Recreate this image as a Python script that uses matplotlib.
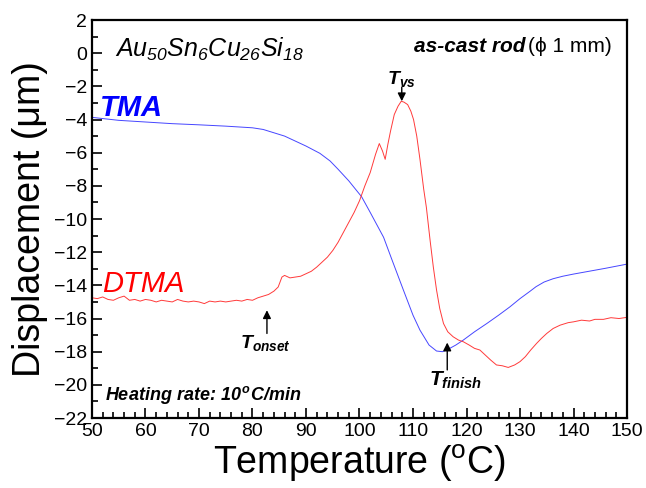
import matplotlib
matplotlib.use('Agg')
import matplotlib.pyplot as plt
from matplotlib.ticker import MultipleLocator

plt.rcParams['font.family'] = ['Liberation Sans', 'DejaVu Sans']
plt.rcParams['mathtext.fontset'] = 'custom'
plt.rcParams['mathtext.rm'] = 'Liberation Sans:italic'
plt.rcParams['mathtext.it'] = 'Liberation Sans:italic'
plt.rcParams['mathtext.sf'] = 'Liberation Sans'
plt.rcParams['mathtext.bf'] = 'Liberation Sans:bold:italic'

# TMA curve (displacement, um)
tma_t = [50, 55, 60, 65, 70, 75, 80, 82, 84, 86, 88, 90, 92.6, 94.5, 96, 98,
         100.4, 102, 104.5, 106, 108.2, 110, 111.3, 113, 114.4, 115.5, 116.3,
         118, 119.4, 121.5, 123.8, 126, 128.1, 130, 131.9, 133, 134.5, 136.2,
         138, 140, 142.4, 146, 150]
tma_d = [-3.87, -4.05, -4.15, -4.25, -4.32, -4.4, -4.5, -4.6, -4.8, -5.0,
         -5.3, -5.6, -6.04, -6.5, -7.0, -7.7, -8.66, -9.6, -11.1, -12.4,
         -14.28, -15.8, -16.7, -17.6, -17.96, -18.0, -17.9, -17.6, -17.3,
         -16.8, -16.3, -15.8, -15.3, -14.8, -14.35, -14.08, -13.8, -13.6,
         -13.45, -13.32, -13.18, -12.97, -12.72]

# DTMA curve (arbitrary offset, same axis)
dtma_t = [50, 51, 52, 53, 54, 55, 56, 57, 58, 59, 60, 61, 62, 63, 64, 65, 66,
          67, 68, 69, 70, 71, 72, 73, 74, 75, 76, 77, 78, 79, 80, 81, 82, 83,
          84, 84.8, 85.5, 86, 87, 88, 89, 90, 91, 92, 93, 94, 95, 96, 97, 98,
          99, 100, 101, 102, 103, 103.7, 104.3, 104.8, 105.3, 105.8, 106.5,
          107.2, 107.8, 108.3, 109, 109.6, 110.1, 110.7, 111.3, 112, 112.5,
          113.2, 113.8, 114.4, 115, 115.7, 116.5, 117.5, 118.5, 119.4, 120.5,
          121.5, 122.5, 123.5, 124.5, 125.6, 126.7, 127.8, 129, 130, 131, 132,
          133.1, 134, 135, 136.2, 137.5, 139, 140, 141.5, 143, 144, 145.6,
          147, 148.5, 150]
dtma_d = [-14.75, -14.8, -14.7, -14.85, -14.9, -14.75, -14.65, -14.9, -14.85,
          -14.95, -14.85, -14.9, -15.0, -14.9, -14.95, -15.0, -14.85, -14.95,
          -15.0, -14.95, -15.0, -15.1, -14.95, -15.0, -14.95, -15.0, -14.95,
          -14.9, -14.95, -14.85, -14.9, -14.75, -14.65, -14.55, -14.35, -14.1,
          -13.5, -13.4, -13.55, -13.5, -13.45, -13.3, -13.15, -12.9, -12.6,
          -12.3, -11.9, -11.4, -10.8, -10.2, -9.6, -8.9, -8.0, -7.2, -6.1,
          -5.45, -5.9, -6.4, -5.5, -4.7, -3.7, -3.2, -2.9, -2.95, -3.1, -3.5,
          -4.0, -5.0, -6.4, -8.2, -9.3, -11.3, -12.9, -14.28, -15.4, -16.3,
          -16.8, -17.1, -17.3, -17.4, -17.6, -17.8, -17.9, -18.2, -18.5,
          -18.8, -18.85, -18.95, -18.8, -18.6, -18.3, -17.9, -17.5, -17.2,
          -16.9, -16.6, -16.4, -16.25, -16.2, -16.1, -16.15, -16.05, -16.05,
          -15.95, -16.0, -15.93]

fig = plt.figure(figsize=(6.46, 4.88), dpi=100)
ax = fig.add_axes([0.1424, 0.1434, 0.8282, 0.8156])

ax.plot(tma_t, tma_d, color='#4646ff', lw=0.7)
ax.plot(dtma_t, dtma_d, color='#ff3a3a', lw=0.7)

ax.set_xlim(50, 150)
ax.set_ylim(-22, 2)
ax.xaxis.set_major_locator(MultipleLocator(10))
ax.xaxis.set_minor_locator(MultipleLocator(2))
ax.yaxis.set_major_locator(MultipleLocator(2))
ax.yaxis.set_minor_locator(MultipleLocator(1))
ax.tick_params(which='both', direction='in', top=False, right=False,
               labelsize=14, width=1.2)
ax.tick_params(which='major', length=7)
ax.tick_params(which='minor', length=4)
for s in ax.spines.values():
    s.set_linewidth(1.6)

ax.set_xlabel(r'Temperature ($^{\mathsf{o}}$C)', fontsize=27, labelpad=2)
ax.set_ylabel('Displacement (\u03bcm)', fontsize=27, labelpad=4)

ax.text(54.3, 0.2, r'$Au_{50}Sn_{6}Cu_{26}Si_{18}$', fontsize=18,
        va='center', ha='left')

# "as-cast rod" bold italic followed by a plain "(phi 1 mm)"
t1 = ax.text(147.2, 0.4, '(\u03d5 1 mm)', fontsize=15, ha='right', va='center')
fig.canvas.draw()
bb = t1.get_window_extent()
x_left = ax.transData.inverted().transform((bb.x0, bb.y0))[0]
ax.text(x_left - 0.6, 0.4, 'as-cast rod', fontsize=15, fontweight='bold',
        style='italic', ha='right', va='center')

ax.text(51.5, -3.3, 'TMA', color='#0000ff', fontsize=21, fontweight='bold',
        style='italic', ha='left', va='center')
ax.text(51.9, -13.9, 'DTMA', color='#ff0000', fontsize=21, style='italic',
        ha='left', va='center')

# characteristic temperatures: arrow + label
arrow = dict(arrowstyle='-|>', color='black', lw=1.0, mutation_scale=12,
             shrinkA=0, shrinkB=0)
ax.annotate('', xy=(107.9, -2.9), xytext=(107.9, -2.05), arrowprops=arrow)
ax.text(107.9, -1.55, r'$\mathbf{T_{vs}}$', fontsize=14, ha='center',
        va='center')
ax.annotate('', xy=(82.7, -15.5), xytext=(82.7, -16.9), arrowprops=arrow)
ax.text(82.5, -17.45, r'$\mathbf{T_{onset}}$', fontsize=14, ha='center',
        va='center')
ax.annotate('', xy=(116.4, -17.45), xytext=(116.4, -19.1), arrowprops=arrow)
ax.text(117.9, -19.75, r'$\mathbf{T_{finish}}$', fontsize=15, ha='center',
        va='center')

ax.text(52.4, -20.6, r'Heating rate: 10$\mathbf{^{\,o}}$C/min', fontsize=13,
        fontweight='bold', style='italic', ha='left', va='center')

fig.savefig('out.png', dpi=100)
